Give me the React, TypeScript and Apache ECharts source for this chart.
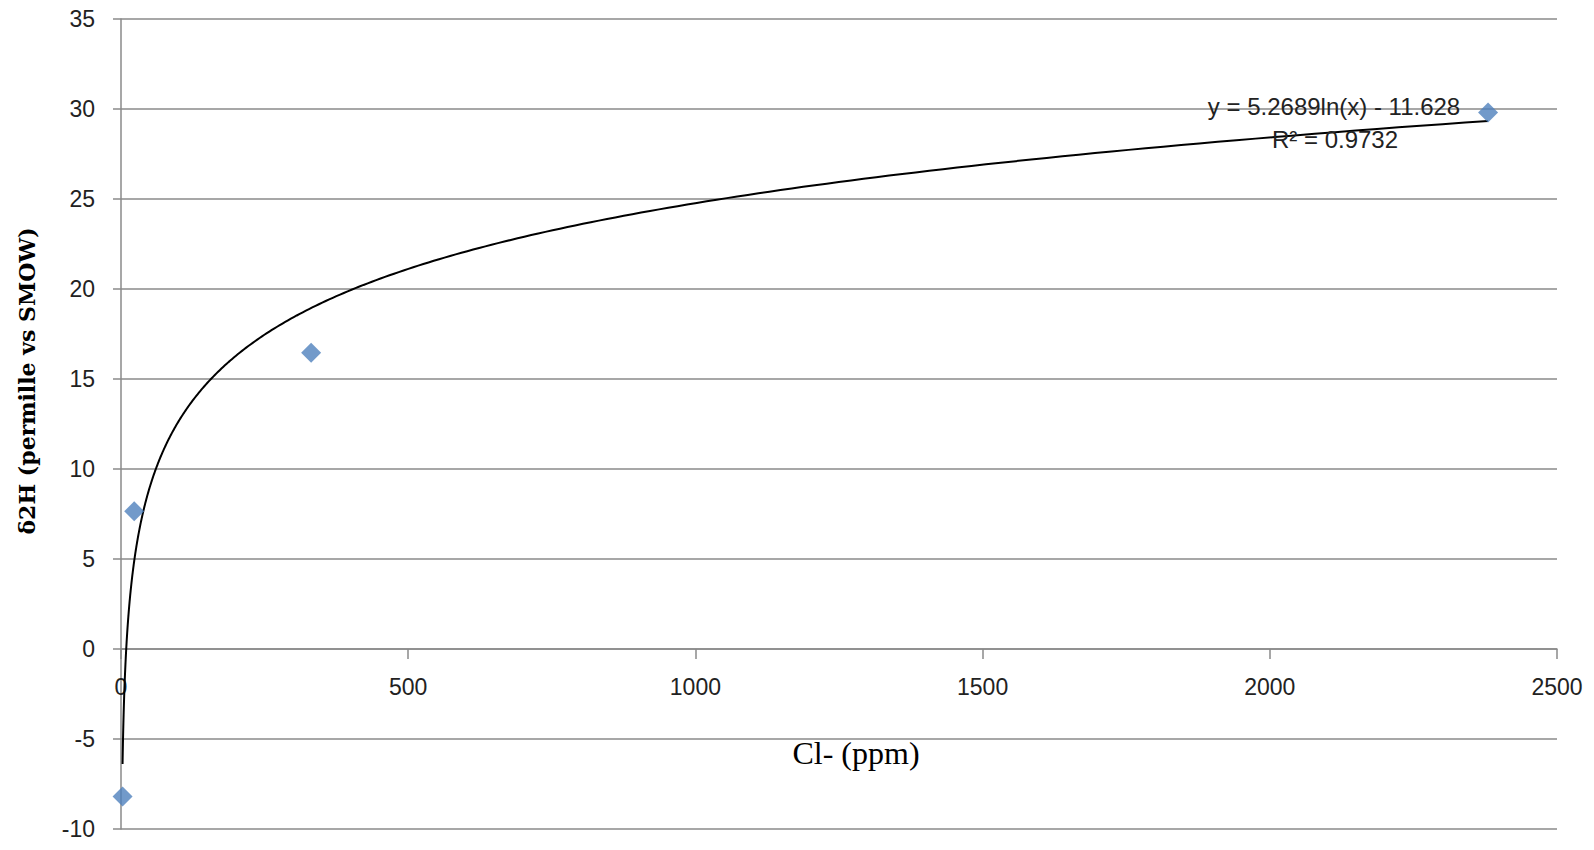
import React, { useEffect, useRef } from "react";
import * as echarts from "echarts";

const clPpm = [2.7, 23, 331, 2380];
const d2H = [-8.2, 7.65, 16.46, 29.8];

// Logarithmic trendline as printed on the chart
const TREND_A = 5.2689;
const TREND_B = -11.628;
const R2 = 0.9732;
const trendLabel1 = "y = 5.2689ln(x) - 11.628";
const trendLabel2 = "R² = " + R2.toFixed(4);

const X_MIN = 0;
const X_MAX = 2500;
const X_STEP = 500;
const Y_MIN = -10;
const Y_MAX = 35;
const Y_STEP = 5;

const xTitle = "Cl- (ppm)";
const yTitle = "δ2H (permille vs SMOW)";

const GRID_TOP = 19;
const GRID_BOTTOM = 21;
const CHART_H = 850;

export default function App() {
  const ref = useRef<HTMLDivElement>(null);

  useEffect(() => {
    document.body.style.margin = "0";
    document.body.style.overflow = "hidden";
    const chart = echarts.init(ref.current!, null, { renderer: "svg" });

    const x0 = Math.min(...clPpm);
    const x1 = Math.max(...clPpm);
    const n = 400;
    const trend: number[][] = [];
    for (let i = 0; i <= n; i++) {
      const x = x0 * Math.pow(x1 / x0, i / n);
      trend.push([x, TREND_A * Math.log(x) + TREND_B]);
    }

    // move the x axis up to the y = 0 line
    const plotH = CHART_H - GRID_TOP - GRID_BOTTOM;
    const zeroOffset = -plotH * (0 - Y_MIN) / (Y_MAX - Y_MIN);

    const gridColor = "#8a8a8a";
    const labelFont = {
      fontFamily: "Liberation Sans",
      fontSize: 23,
      color: "#222",
    };

    chart.setOption({
      animation: false,
      backgroundColor: "#ffffff",
      grid: {
        left: 121,
        right: 37,
        top: GRID_TOP,
        bottom: GRID_BOTTOM,
        containLabel: false,
        outerBoundsMode: "none",
      },
      xAxis: {
        type: "value",
        min: X_MIN,
        max: X_MAX,
        interval: X_STEP,
        offset: zeroOffset,
        axisLine: { show: true, onZero: false, lineStyle: { color: gridColor, width: 1.5 } },
        axisTick: { show: true, length: 10, lineStyle: { color: gridColor, width: 1.5 } },
        axisLabel: { ...labelFont, margin: 26, formatter: (v: number) => String(v) },
        splitLine: { show: false },
      },
      yAxis: {
        type: "value",
        min: Y_MIN,
        max: Y_MAX,
        interval: Y_STEP,
        axisLine: { show: true, onZero: false, lineStyle: { color: gridColor, width: 1.5 } },
        axisTick: { show: true, length: 8, lineStyle: { color: gridColor, width: 1.5 } },
        axisLabel: { ...labelFont, margin: 26, formatter: (v: number) => String(v) },
        splitLine: { show: true, lineStyle: { color: gridColor, width: 1.5 } },
      },
      series: [
        {
          name: "trend",
          type: "line",
          data: trend,
          showSymbol: false,
          symbol: "none",
          smooth: false,
          lineStyle: { color: "#000", width: 2 },
          z: 2,
          silent: true,
        },
        {
          name: "d2H",
          type: "scatter",
          data: clPpm.map((x, i) => [x, d2H[i]]),
          symbol: "diamond",
          symbolSize: 20,
          itemStyle: { color: "#4F81BD" },
          z: 3,
        },
      ],
      graphic: [
        {
          type: "text",
          x: 27,
          y: 381,
          rotation: Math.PI / 2,
          style: {
            text: yTitle,
            font: "bold 22px 'DejaVu Serif'",
            fill: "#000",
            align: "center",
            verticalAlign: "middle",
          },
        },
        {
          type: "text",
          x: 856,
          y: 753,
          style: {
            text: xTitle,
            font: "32px 'Liberation Serif'",
            fill: "#000",
            align: "center",
            verticalAlign: "middle",
          },
        },
        {
          type: "text",
          x: 1334,
          y: 106,
          z: 10,
          style: {
            text: trendLabel1,
            font: "24px 'Liberation Sans'",
            fill: "#222",
            align: "center",
            verticalAlign: "middle",
          },
        },
        {
          type: "text",
          x: 1335,
          y: 139,
          z: 10,
          style: {
            text: trendLabel2,
            font: "24px 'Liberation Sans'",
            fill: "#222",
            align: "center",
            verticalAlign: "middle",
          },
        },
      ],
    });

    return () => chart.dispose();
  }, []);

  return <div ref={ref} style={{ width: 1594, height: 850 }} />;
}
